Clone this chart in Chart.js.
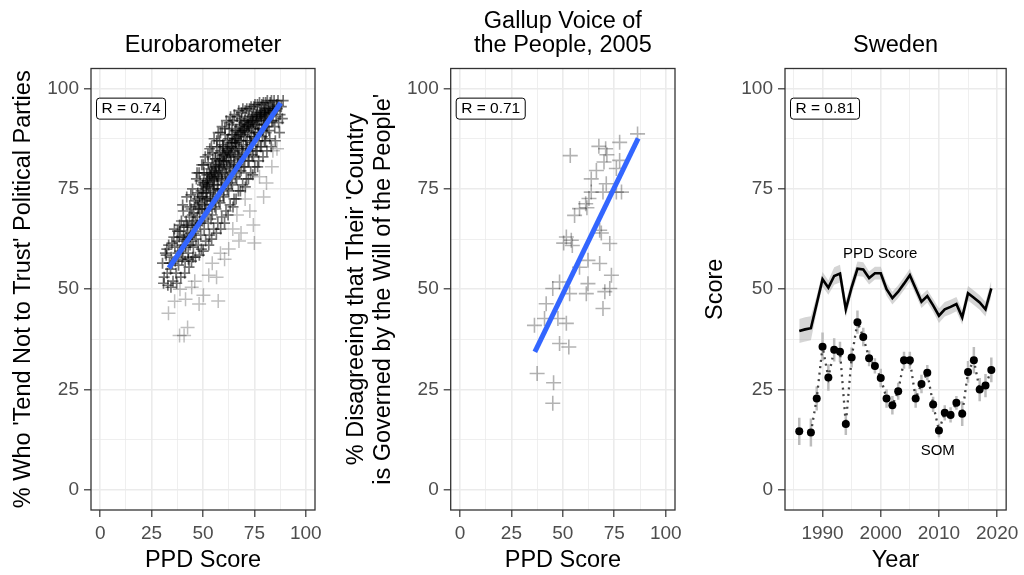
<!DOCTYPE html>
<html>
<head>
<meta charset="utf-8">
<script src="https://cdn.jsdelivr.net/npm/chart.js@4/dist/chart.umd.min.js"></script>
<style>
  html, body { margin: 0; padding: 0; background: #fff; }
  #wrap { position: relative; width: 1024px; height: 575px; }
  .panel { position: absolute; top: 0; height: 575px; }
</style>
</head>
<body>
<div id="wrap">
  <div class="panel" style="left:0;width:335px"><canvas id="euro"></canvas></div>
  <div class="panel" style="left:335px;width:355px"><canvas id="gallup"></canvas></div>
  <div class="panel" style="left:690px;width:334px"><canvas id="sweden"></canvas></div>
</div>
<script>
// datos: [PPD score, % desconfianza]
const euroCore = [
  [30.3,56.5],[31.1,53],[31.7,59],[30.8,51.5],
  [32.1,58.5],[32.6,54],[33.3,61],[32.9,51],[33.7,56.5],[32.4,60],
  [34.2,55],[34.9,61.5],[35.4,52],[34.6,58],[35.8,63],[35.1,56.5],[34.4,50.5],
  [36.3,60.5],[36.9,54],[37.6,64.5],[36.5,57],[37.2,51.5],[37.8,59],[36.1,65],[37.4,62],
  [38.4,63],[38.1,56],[39.5,67],[38.8,59.5],[39.2,53],[39.9,61],[38.6,66],[39.7,57.5],[39.0,64.5],
  [40.2,58],[40.7,65.5],[41.5,61],[40.4,69.5],[41.1,54],[41.8,67],[40.9,62.5],[41.3,57],[40.1,71],[41.9,63.5],
  [42.3,66],[42.8,59],[43.6,70.5],[42.5,62.5],[43.2,55.5],[43.9,64],[42.1,73],[43.4,68],[42.9,57.5],[43.7,61],
  [44.2,70],[44.6,62],[45.4,66.5],[44.9,75],[45.1,58],[45.8,72],[44.4,57],[45.6,64],[44.8,68.5],[45.3,60.5],[44.1,73.5],
  [46.5,71],[46.1,64.5],[47.3,68],[46.8,77.5],[47.7,61],[46.3,58],[47.5,74],[46.9,66],[47.1,79],[47.9,70],[46.6,62.5],[47.4,72.5],
  [48.3,73],[48.7,66.5],[49.5,70],[48.1,79],[49.2,60],[49.8,76],[48.9,63.5],[49.4,81],[48.5,69],[49.7,67],[48.2,58.5],[49.1,74.5],[48.6,77],
  [50.4,75],[50.8,68],[51.6,72.5],[50.2,81],[51.3,62],[51.9,78.5],[50.6,65],[51.1,83],[50.9,71],[51.7,69.5],[50.1,59.5],[51.4,76.5],[50.5,79],
  [52.2,77],[52.9,70],[53.5,74],[52.4,83.5],[53.1,63.5],[53.8,80],[52.6,66.5],[53.3,85],[52.1,72.5],[53.7,71],[52.8,61],[53.4,78.5],[52.5,81.5],[53.9,67.5],
  [54.3,79],[54.7,72],[55.6,76],[54.1,85.5],[55.2,65],[55.9,82.5],[54.5,68.5],[55.4,87.5],[54.9,74.5],[55.7,70.5],[54.2,62.5],[55.1,80.5],[54.8,84],[55.5,78],
  [56.4,80.5],[56.1,73.5],[57.5,77.5],[56.7,87],[57.2,66.5],[57.9,84],[56.3,70],[57.4,89],[56.9,76],[57.6,72],[56.5,64],[57.1,82],[56.8,85.5],[57.8,79.5],
  [58.2,82],[58.8,75],[59.4,79],[58.5,89],[59.1,68],[59.7,85.5],[58.3,71.5],[59.3,90.5],[58.9,77.5],[59.8,73.5],[58.6,65],[59.5,83.5],[58.1,87],[59.9,81],
  [60.3,83.5],[60.9,76.5],[61.5,80.5],[60.6,90],[61.2,69.5],[61.8,87],[60.2,73],[61.4,92],[60.7,79],[61.9,75],[60.5,66.5],[61.1,85],[60.8,88.5],[61.6,82],
  [62.4,85],[62.1,78],[63.6,82],[62.7,91.5],[63.2,71],[63.9,88.5],[62.5,74.5],[63.4,93],[62.9,80.5],[63.7,76.5],[62.2,68.5],[63.1,86.5],[62.8,90],[63.5,83.5],
  [64.2,86.5],[64.8,79.5],[65.4,83.5],[64.5,92],[65.1,72.5],[65.7,89.5],[64.3,76],[65.3,93.5],[64.9,81.5],[65.8,78],[64.6,70.5],[65.5,87.5],[64.1,91],[65.9,85],
  [66.3,87.5],[66.9,81],[67.5,85],[66.6,93],[67.2,74.5],[67.8,90.5],[66.4,77.5],[67.4,94.5],[66.8,83],[67.7,79],[66.1,72.5],[67.1,89],[67.9,92],
  [68.4,88.5],[68.1,82.5],[69.6,86],[68.7,94],[69.3,76],[69.9,91.5],[68.5,79.5],[69.4,95],[68.9,84.5],[69.7,80.5],[68.2,74.5],[69.1,90],[68.8,92.5],
  [70.2,89.5],[70.8,83.5],[71.5,87],[70.5,94.5],[71.1,77.5],[71.7,92],[70.3,80.5],[71.3,95],[70.9,85.5],[71.9,82],[70.6,75.5],[71.4,91],
  [72.3,90.5],[72.9,85],[73.6,88],[72.6,95],[73.2,79],[73.8,93],[72.4,82],[73.4,95.5],[72.8,87],[73.9,83.5],[72.1,77.5],[73.1,92],
  [74.4,91.5],[74.1,86],[75.5,89],[74.7,95.5],[75.2,80.5],[75.9,93.5],[74.5,83],[75.3,96],[74.9,88],[75.7,84.5],[74.2,78.5],
  [76.2,92],[76.8,87],[77.4,90],[76.5,96],[77.1,82],[77.7,94],[76.3,84.5],[77.5,96.5],[76.9,89],[77.9,85.5],[76.6,80.5],
  [78.3,93],[78.9,88],[79.6,91],[78.6,96],[79.2,83],[79.8,94.5],[78.4,85.5],[79.4,96.5],[78.8,90],[79.9,87],
  [80.2,93.5],[80.7,89],[81.5,91.5],[80.5,96.5],[81.1,84.5],[81.8,95],[80.4,87],[81.3,97],[80.9,92],
  [82.4,94],[82.1,89.5],[83.5,92],[82.7,96.5],[83.2,85.5],[83.9,95],[82.5,87.5],[83.3,97],
  [84.3,94.5],[84.9,90.5],[85.6,93],[84.6,97],[85.2,87],[85.8,95.5],[84.1,92],
  [86.2,95],[86.8,91.5],[87.5,93.5],[86.5,97],[87.2,89],
  [88.1,95.5],[88.6,92.5],[89.0,97],
  // nucleo mas denso
  [50.7,72],[51.5,74],[51.0,70],[50.3,76.5],[52.7,75.5],[53.6,73],[52.3,77.5],[53.0,79],
  [54.6,77],[55.3,75],[54.4,81],[55.8,79],[56.6,78.5],[57.3,75],[56.2,82.5],[57.7,80.5],
  [58.7,80],[59.2,77],[58.4,84.5],[59.6,86],[60.4,81.5],[61.3,78.5],[60.1,85.5],[61.7,84],
  [62.6,83],[63.3,80],[62.3,87.5],[63.8,85.5],[64.7,84.5],[65.2,81],[64.4,88.5],[65.6,86.5],
  [66.7,85.5],[67.3,83],[66.2,89.5],[67.6,87],[68.6,87],[69.2,84],[68.3,91],[69.8,88.5],
  [70.7,88],[71.2,85],[70.4,92],[71.8,89.5],[72.7,89],[73.3,86.5],[72.2,93],[73.7,90.5],
  [74.6,90],[75.1,87.5],[74.3,93.5],[75.6,91],[76.7,91],[77.2,88.5],[76.4,94],[77.6,92.5],
  [78.5,92],[79.1,89.5],[78.2,94.5],[79.7,92.5],[80.6,93],[81.2,90.5],[80.1,95],[81.6,93.5],
  [40.5,63],[41.6,60.5],[42.6,65.5],[43.5,63],[44.7,66],[45.5,69],[46.4,67],[47.6,70.5],
  [48.4,71.5],[49.6,73],[50.0,74],[51.8,75.5],[52.0,76],[53.2,76.5],[54.0,78],[55.0,77.5],
  [56.0,79.5],[57.0,78],[58.0,81],[59.0,82.5],[60.0,82],[61.0,83],[62.0,84.5],[63.0,84],
  [64.0,85.5],[65.0,87],[66.0,86.5],[67.0,88],[68.0,89],[69.0,89.5],[70.0,90],[71.0,90.5],
  [72.0,91],[73.0,91.5],[74.0,92],[75.0,92.5],[76.0,93],[77.0,93],[78.0,93.5],[79.0,94],
  [80.0,94],[81.0,94.5],[82.0,95],[83.0,94],[84.0,95.5],[85.0,94.5],[86.0,96]
];
const euroSparse = [
  [33.2,44],[38.6,38.5],[40.8,38.5],[42.5,40.5],[48.1,46.3],[57.4,47.1],[38.8,50],[44.5,50.5],
  [50.2,48.5],[52.8,53.5],[56.6,53],[60.5,57.5],[64.5,65],[68.5,64],[72.8,69.5],[74.5,66],[75,61.5],
  [79.5,73],[80.9,76.5],[83.5,80.5],[86,85],[46,52],[36.2,47],[54.5,56.5],[62.5,60],[66.5,68.5],
  [70.5,72.5],[77.5,78],[84,84.5],[41.5,47.5],[58.5,59],[67.5,62]
];
const euroFit = [[33.4,55.3],[87.8,96.4]];

const gallupPoints = [
  [86.3,88.7],[77.6,86.6],[53.6,83.3],[70.8,85.0],[67.5,85.6],[71.4,83.5],[70.0,81.7],[77.6,82.1],
  [76.0,80.1],[66.3,79.6],[63.8,77.5],[71.1,76.3],[76.0,74.2],[78.5,74.2],[69.5,74.2],[63.8,74.2],
  [62.7,72.6],[61.1,71.3],[61.7,70.3],[58.1,70.1],[55.7,68.4],[67.9,64.7],[68.7,64.0],[54.1,62.2],
  [51.7,63.0],[54.6,60.9],[50.4,61.5],[72.8,61.4],[62.2,57.2],[67.9,56.4],[58.1,55.5],[73.6,53.5],
  [62.2,51.4],[48.4,51.8],[45.1,50.2],[72.8,50.2],[70.4,49.4],[69.5,45.2],[61.4,48.9],[53.3,48.9],
  [41.9,46.4],[47.6,42.7],[41.1,42.7],[36.2,41.0],[51.7,41.5],[48.4,36.5],[52.9,35.6],[37.5,29.0],
  [45.5,26.7],[45.1,21.6]
];
const gallupFit = [[36.4,34.4],[86.6,87.6]];

// Suecia
const years = [1986,1987,1988,1989,1990,1991,1992,1993,1994,1995,1996,1997,1998,1999,2000,2001,2002,
  2003,2004,2005,2006,2007,2008,2009,2010,2011,2012,2013,2014,2015,2016,2017,2018,2019];
const ppdScore = [39.6,40.0,40.3,46.4,52.5,50.4,53.3,53.9,45.0,50.5,55.1,54.9,52.8,54.0,54.0,50.0,47.8,
  49.4,51.4,53.5,50.2,46.9,48.3,46.0,43.4,45.0,45.6,46.3,43.0,49.0,47.9,46.7,45.0,50.2];
const ppdErr = [3.0,3.0,3.0,2.0,1.8,1.8,2.2,2.2,2.0,1.8,1.8,1.8,1.6,1.6,1.6,1.6,1.6,
  1.6,1.6,1.6,1.6,1.6,1.6,1.6,1.8,1.8,1.8,1.8,1.8,1.8,1.8,1.8,1.8,2.0];
const somScore = [14.6,null,14.3,22.8,35.7,28.0,34.9,34.4,16.4,33.0,41.8,38.1,32.8,30.9,27.9,22.8,21.1,
  24.6,32.3,32.3,22.8,26.4,29.2,21.3,14.8,19.2,18.7,21.7,19.0,29.4,32.3,25.0,26.0,29.9];
const somErr = [3.4,null,3.5,3.0,3.5,3.3,2.9,2.5,2.7,2.5,2.9,2.3,2.0,1.9,2.3,2.3,2.3,
  2.1,2.1,2.1,2.3,2.3,1.9,1.9,1.7,1.9,1.9,1.7,3.1,2.7,3.3,2.9,2.9,3.1];

const pctTicks = [0, 12.5, 25, 37.5, 50, 62.5, 75, 87.5, 100];
const yearTicks = [1985, 1990, 1995, 2000, 2005, 2010, 2015, 2020];
const rLabels = ['R = 0.74', 'R = 0.71', 'R = 0.81'];

Chart.defaults.font.family = "'Liberation Sans', Arial, sans-serif";

const toXY = pts => pts.map(p => ({ x: p[0], y: p[1] }));
const mayor25 = v => v % 25 === 0;
const mayor10 = v => v % 10 === 0;

function eje(o) {
  return {
    type: 'linear',
    min: o.min,
    max: o.max,
    afterBuildTicks: s => { s.ticks = o.ticks.map(v => ({ value: v })); },
    afterFit: s => {
      if (o.width) s.width = o.width;
      if (o.height) s.height = o.height;
    },
    ticks: {
      autoSkip: false, maxRotation: 0, minRotation: 0, padding: 5,
      color: '#4D4D4D', font: { size: 19 },
      callback: v => (o.major(v) ? v : '')
    },
    grid: {
      color: '#EBEBEB',
      lineWidth: c => (c.tick && o.major(c.tick.value) ? 1.6 : 0.8),
      tickLength: 7,
      tickWidth: 1.2,
      tickColor: c => (c.tick && o.major(c.tick.value) ? '#333333' : 'rgba(0,0,0,0)')
    },
    border: { display: false },
    title: { display: true, text: o.title, color: '#000', font: { size: 23.5, lineHeight: 1.13 }, padding: o.pad }
  };
}

// borde del panel, etiqueta R y textos
function decoracion(rText, notes) {
  return {
    id: 'decoracion',
    afterDatasetsDraw(chart) {
      const { ctx, chartArea: a, scales } = chart;
      ctx.save();
      ctx.fillStyle = '#000';
      ctx.textBaseline = 'middle';
      ctx.textAlign = 'center';
      ctx.font = "15px 'Liberation Sans', Arial, sans-serif";
      notes.forEach(n => ctx.fillText(n.text, scales.x.getPixelForValue(n.x), scales.y.getPixelForValue(n.y)));

      ctx.font = "15.5px 'Liberation Sans', Arial, sans-serif";
      const w = ctx.measureText(rText).width + 10, h = 21;
      const left = a.left + 5.5, top = scales.y.getPixelForValue(95) - h / 2;
      ctx.beginPath();
      ctx.roundRect(left, top, w, h, 3);
      ctx.fillStyle = '#fff';
      ctx.fill();
      ctx.lineWidth = 1;
      ctx.strokeStyle = '#000';
      ctx.stroke();
      ctx.fillStyle = '#000';
      ctx.textAlign = 'left';
      ctx.fillText(rText, left + 5, top + h / 2 + 0.5);

      ctx.lineWidth = 1.3;
      ctx.strokeStyle = '#333333';
      ctx.strokeRect(a.left, a.top, a.right - a.left, a.bottom - a.top);
      ctx.restore();
    }
  };
}

function panel(id, o) {
  new Chart(document.getElementById(id), {
    type: 'line',
    data: { datasets: o.datasets },
    options: {
      responsive: true,
      maintainAspectRatio: false,
      animation: false,
      events: [],
      layout: { padding: { left: 0, right: o.right, top: 0, bottom: 0 } },
      plugins: {
        legend: { display: false },
        tooltip: { enabled: false },
        title: {
          display: true, text: o.title, fullSize: false, color: '#000',
          font: { size: 23.5, weight: 'normal', lineHeight: 1.0 }, padding: o.titlePad
        }
      },
      scales: { x: o.x, y: o.y }
    },
    plugins: [decoracion(o.r, o.notes || [])]
  });
}

const crosses = (pts, alpha, r, lw, order) => ({
  data: toXY(pts), showLine: false, pointStyle: 'cross', pointRadius: r,
  pointBorderWidth: lw, pointBorderColor: 'rgba(0,0,0,' + alpha + ')', order: order
});
const fitLine = (pts) => ({
  data: toXY(pts), showLine: true, borderColor: '#3366FF', borderWidth: 5,
  borderCapStyle: 'butt', pointRadius: 0, order: 0
});

// Eurobarometer
panel('euro', {
  title: 'Eurobarometer',
  titlePad: { top: 34.25, bottom: 10.75 },
  right: 20,
  r: rLabels[0],
  datasets: [fitLine(euroFit), crosses(euroCore, 0.55, 5.5, 1.7, 1), crosses(euroSparse, 0.25, 7, 1.5, 2)],
  x: eje({ min: -4.5, max: 104.5, ticks: pctTicks, major: mayor25, height: 65, title: 'PPD Score', pad: { top: 0, bottom: 1.5 } }),
  y: eje({ min: -5, max: 105, ticks: pctTicks, major: mayor25, width: 91,
    title: "% Who 'Tend Not to Trust' Political Parties", pad: { top: 10.4, bottom: 0 } })
});

// Gallup
panel('gallup', {
  title: ['Gallup Voice of', 'the People, 2005'],
  titlePad: { top: 10.25, bottom: 11.25 },
  right: 15,
  r: rLabels[1],
  datasets: [fitLine(gallupFit), crosses(gallupPoints, 0.3, 7.5, 1.6, 1)],
  x: eje({ min: -4.5, max: 104.5, ticks: pctTicks, major: mayor25, height: 65, title: 'PPD Score', pad: { top: 0, bottom: 1.5 } }),
  y: eje({ min: -5, max: 105, ticks: pctTicks, major: mayor25, width: 115.7,
    title: ["% Disagreeing that Their 'Country", "is Governed by the Will of the People'"], pad: { top: 8.6, bottom: 0 } })
});

// Sweden
const ppdUpper = years.map((yr, i) => ({ x: yr, y: ppdScore[i] + ppdErr[i] }));
const ppdLower = years.map((yr, i) => ({ x: yr, y: ppdScore[i] - ppdErr[i] }));
const somBars = years.flatMap((yr, i) => somScore[i] === null ? [] :
  [{ x: yr, y: somScore[i] - somErr[i] }, { x: yr, y: somScore[i] + somErr[i] }, { x: yr, y: null }]);
const somXY = years.map((yr, i) => ({ x: yr, y: somScore[i] }));

panel('sweden', {
  title: 'Sweden',
  titlePad: { top: 34.25, bottom: 10.75 },
  right: 15,
  r: rLabels[2],
  notes: [{ text: 'PPD Score', x: 1999.9, y: 58.8 }, { text: 'SOM', x: 2009.8, y: 9.8 }],
  datasets: [
    { data: ppdUpper, fill: '+1', backgroundColor: 'rgba(150,150,150,0.4)', borderColor: 'rgba(0,0,0,0)', borderWidth: 0, pointRadius: 0, order: 6 },
    { data: ppdLower, fill: false, borderColor: 'rgba(0,0,0,0)', borderWidth: 0, pointRadius: 0, order: 7 },
    { data: years.map((yr, i) => ({ x: yr, y: ppdScore[i] })), borderColor: '#000', borderWidth: 2.6, pointRadius: 0, order: 5 },
    { data: somBars, borderColor: '#BDBDBD', borderWidth: 2.5, borderCapStyle: 'butt', pointRadius: 0, spanGaps: false, order: 4 },
    { data: somXY, borderColor: '#444', borderWidth: 2.3, borderDash: [2, 4.5], pointRadius: 0, spanGaps: false, order: 3 },
    { data: somXY, showLine: false, pointRadius: 4, pointBackgroundColor: '#000', pointBorderWidth: 0, order: 1 }
  ],
  x: eje({ min: 1983.55, max: 2021.55, ticks: yearTicks, major: mayor10, height: 65, title: 'Year', pad: { top: 0, bottom: 1.5 } }),
  y: eje({ min: -5, max: 105, ticks: pctTicks, major: mayor25, width: 95, title: 'Score', pad: { top: 11.9, bottom: 0 } })
});
</script>
</body>
</html>
